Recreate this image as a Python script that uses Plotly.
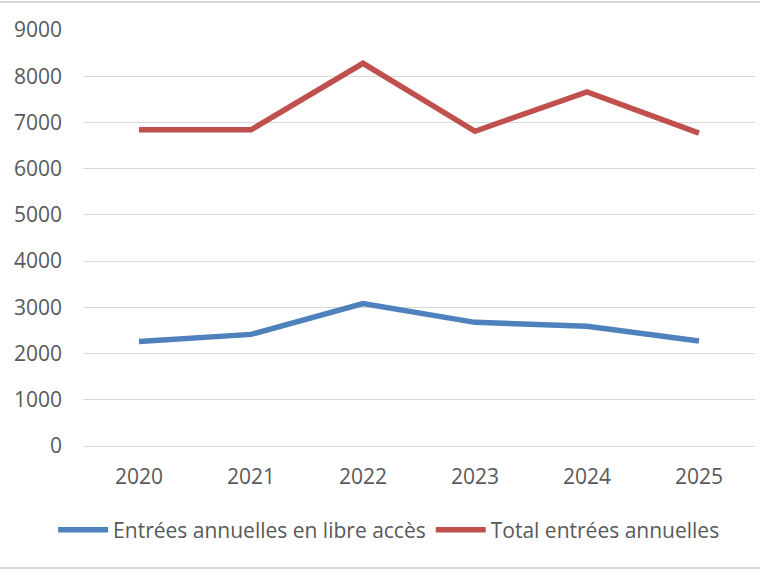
import plotly.graph_objects as go

years = ["2020", "2021", "2022", "2023", "2024", "2025"]
libre_acces = [2260, 2415, 3080, 2675, 2590, 2270]
total_entrees = [6840, 6840, 8280, 6810, 7660, 6770]

series_names = ["Entrées annuelles en libre accès", "Total entrées annuelles"]
y_ticks = [0, 1000, 2000, 3000, 4000, 5000, 6000, 7000, 8000, 9000]

BLUE = "#4F81BD"
RED = "#C0504D"
GREY_TXT = "#595959"
GRID = "#d9d9d9"

fig = go.Figure()
fig.add_trace(go.Scatter(x=years, y=libre_acces, name=series_names[0], mode="lines",
                         line=dict(color=BLUE, width=5.5)))
fig.add_trace(go.Scatter(x=years, y=total_entrees, name=series_names[1], mode="lines",
                         line=dict(color=RED, width=5.5)))

plot_h = 416  # 570 - 30 - 124

fig.update_layout(
    width=760, height=570,
    margin=dict(l=83, r=5, t=30, b=124),
    paper_bgcolor="white", plot_bgcolor="white",
    font=dict(family="Open Sans", size=21, color=GREY_TXT),
    showlegend=True,
    legend=dict(orientation="h", xref="container", x=0.512, xanchor="center",
                yref="container", y=0.07, yanchor="middle",
                font=dict(size=21, color=GREY_TXT), itemwidth=50, tracegroupgap=0),
)
fig.update_xaxes(type="category", showgrid=False, showline=False, zeroline=False,
                 range=[-0.5, 5.5], ticks="", ticklabelstandoff=16)
fig.update_yaxes(range=[0, 9000], tickvals=y_ticks, showgrid=True, gridcolor=GRID,
                 gridwidth=1.2, zeroline=True, zerolinecolor=GRID, zerolinewidth=1.2,
                 showline=False, ticks="", ticklabelstandoff=20)

# chart frame lines at top and bottom
fig.add_shape(type="line", xref="paper", yref="paper", x0=-0.2, x1=1.1,
              y0=1.0 + 28 / plot_h, y1=1.0 + 28 / plot_h, line=dict(color=GRID, width=2))
fig.add_shape(type="line", xref="paper", yref="paper", x0=-0.2, x1=1.1,
              y0=-122 / plot_h, y1=-122 / plot_h, line=dict(color=GRID, width=2))

fig.write_html("out.html", config={"displayModeBar": False},
               post_script="document.body.style.margin='0px';")
